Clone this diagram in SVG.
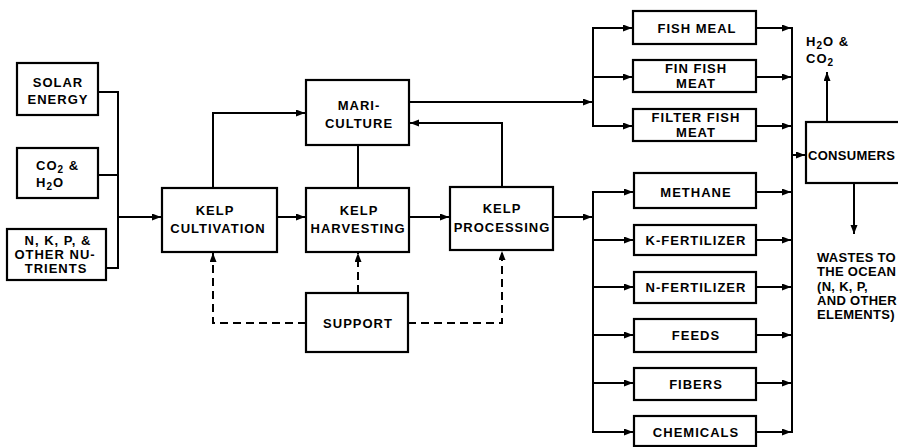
<svg xmlns="http://www.w3.org/2000/svg" width="898" height="447" viewBox="0 0 898 447">
<style>
.box{fill:#fff;stroke:#000;stroke-width:2.2}
.t{font-family:"Liberation Sans",Arial,sans-serif;font-weight:bold;font-size:13px;letter-spacing:1px;fill:#000;text-anchor:middle}
.tl{font-family:"Liberation Sans",Arial,sans-serif;font-weight:bold;font-size:13px;letter-spacing:1px;fill:#000}
.tight{letter-spacing:0.3px}
.sub{font-size:10px}
.c{fill:none;stroke:#000;stroke-width:2}
.a{fill:none;stroke:#000;stroke-width:2;marker-end:url(#ah)}
.da{fill:none;stroke:#000;stroke-width:2;stroke-dasharray:8 5;marker-end:url(#ah)}
</style>
<defs>
<marker id="ah" markerUnits="userSpaceOnUse" markerWidth="10" markerHeight="8" refX="9" refY="3.5" orient="auto">
<path d="M0,0 L9,3.5 L0,7 z" fill="#000"/>
</marker>
</defs>
<rect width="898" height="447" fill="#fff"/>
<g id="connectors">
<path class="c" d="M98,92 H118 M98,175 H118 M106,268 H118 M118,91 V269"/>
<path class="a" d="M118,217 H161"/>
<path class="a" d="M277,217 H305"/>
<path class="a" d="M213,188 V113 H305"/>
<path class="c" d="M358,145 V188"/>
<path class="a" d="M409,217 H449"/>
<path class="a" d="M409,102 H592"/>
<path class="a" d="M502,187 V123 H410"/>
<path class="c" d="M593,27 V127"/>
<path class="a" d="M593,28 H632"/>
<path class="a" d="M593,77 H632"/>
<path class="a" d="M593,126 H632"/>
<path class="a" d="M553,217 H592"/>
<path class="c" d="M593,191 V433"/>
<path class="a" d="M593,192 H633"/>
<path class="a" d="M593,240 H633"/>
<path class="a" d="M593,287 H633"/>
<path class="a" d="M593,335 H633"/>
<path class="a" d="M593,383 H633"/>
<path class="a" d="M593,432 H633"/>
<path class="a" d="M756,28 H791"/>
<path class="a" d="M756,77 H791"/>
<path class="a" d="M756,126 H791"/>
<path class="a" d="M756,192 H791"/>
<path class="a" d="M756,240 H791"/>
<path class="a" d="M756,287 H791"/>
<path class="a" d="M756,335 H791"/>
<path class="a" d="M756,383 H791"/>
<path class="a" d="M756,432 H791"/>
<path class="c" d="M792,27 V433"/>
<path class="a" d="M792,155 H805"/>
<path class="a" d="M827,122 V72"/>
<path class="a" d="M854,183 V234"/>
<path class="da" d="M306,323 H213 V253"/>
<path class="da" d="M358,293 V253"/>
<path class="da" d="M408,323 H502 V251"/>
</g>
<g id="solar"><rect class="box" x="17" y="63" width="81" height="52"/>
<text class="t" x="58" y="87">SOLAR</text><text class="t" x="58" y="104">ENERGY</text></g>
<g id="co2h2o"><rect class="box" x="17" y="148" width="81" height="50"/>
<text class="tl" x="36" y="170">CO<tspan class="sub" dy="3">2</tspan><tspan dy="-3"> &amp;</tspan></text>
<text class="tl" x="36" y="187">H<tspan class="sub" dy="3">2</tspan><tspan dy="-3">O</tspan></text></g>
<g id="nutrients"><rect class="box" x="7" y="229" width="99" height="51"/>
<text class="t" x="58" y="245">N, K, P, &amp;</text><text class="t" x="55" y="259">OTHER NU-</text><text class="t" x="56" y="273">TRIENTS</text></g>
<g id="cultivation"><rect class="box" x="162" y="188" width="115" height="64"/>
<text class="t" x="215" y="215">KELP</text><text class="t" x="218" y="233">CULTIVATION</text></g>
<g id="mariculture"><rect class="box" x="306" y="80" width="103" height="65"/>
<text class="t" x="359" y="110">MARI-</text><text class="t" x="359" y="128">CULTURE</text></g>
<g id="harvesting"><rect class="box" x="306" y="188" width="103" height="64"/>
<text class="t" x="359" y="215">KELP</text><text class="t" x="358" y="233">HARVESTING</text></g>
<g id="processing"><rect class="box" x="450" y="187" width="103" height="63"/>
<text class="t" x="502" y="213">KELP</text><text class="t" x="502" y="232">PROCESSING</text></g>
<g id="support"><rect class="box" x="306" y="293" width="102" height="59"/>
<text class="t" x="358" y="328">SUPPORT</text></g>
<g id="fishmeal"><rect class="box" x="633" y="11" width="123" height="33"/>
<text class="t" x="697" y="33">FISH MEAL</text></g>
<g id="finfish"><rect class="box" x="633" y="60" width="123" height="32"/>
<text class="t" x="696" y="73">FIN FISH</text><text class="t" x="696" y="88">MEAT</text></g>
<g id="filterfish"><rect class="box" x="633" y="109" width="123" height="32"/>
<text class="t" x="696" y="122">FILTER FISH</text><text class="t" x="696" y="137">MEAT</text></g>
<g id="methane"><rect class="box" x="634" y="173" width="122" height="35"/>
<text class="t" x="696" y="197">METHANE</text></g>
<g id="kfert"><rect class="box" x="634" y="225" width="122" height="30"/>
<text class="t" x="696" y="245">K-FERTILIZER</text></g>
<g id="nfert"><rect class="box" x="634" y="272" width="122" height="31"/>
<text class="t" x="696" y="292">N-FERTILIZER</text></g>
<g id="feeds"><rect class="box" x="634" y="319" width="122" height="33"/>
<text class="t" x="696" y="340">FEEDS</text></g>
<g id="fibers"><rect class="box" x="634" y="368" width="122" height="32"/>
<text class="t" x="696" y="389">FIBERS</text></g>
<g id="chemicals"><rect class="box" x="634" y="416" width="122" height="30"/>
<text class="t" x="696" y="437">CHEMICALS</text></g>
<g id="consumers"><rect class="box" x="806" y="122" width="110" height="61"/>
<text class="tl tight" x="808" y="160">CONSUMERS</text></g>
<g id="emissions"><text class="tl" x="806" y="46">H<tspan class="sub" dy="3">2</tspan><tspan dy="-3">O &amp;</tspan></text>
<text class="tl" x="806" y="63">CO<tspan class="sub" dy="3">2</tspan></text></g>
<g id="wastes">
<text class="tl tight" x="817" y="262">WASTES TO</text>
<text class="tl tight" x="817" y="276">THE OCEAN</text>
<text class="tl tight" x="817" y="291">(N, K, P,</text>
<text class="tl tight" x="817" y="305">AND OTHER</text>
<text class="tl tight" x="817" y="319">ELEMENTS)</text>
</g>
</svg>
